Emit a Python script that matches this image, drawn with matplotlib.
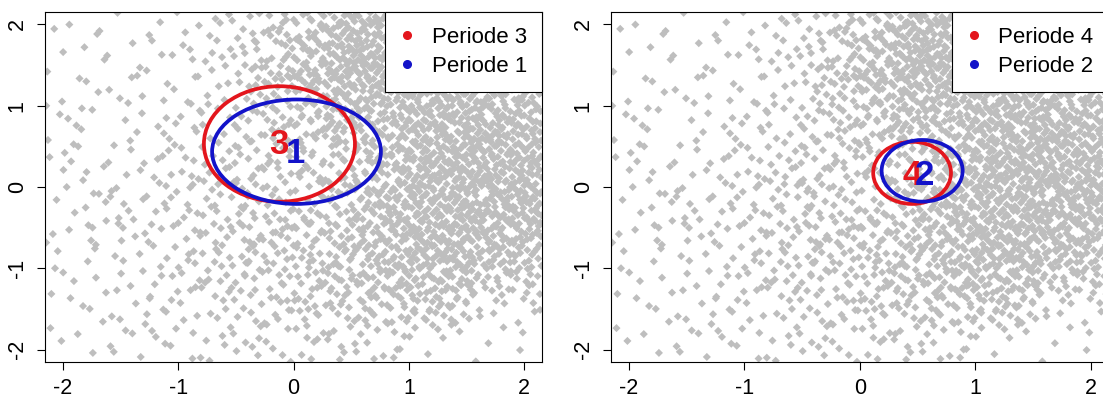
import numpy as np
import matplotlib
matplotlib.use('Agg')
import matplotlib.pyplot as plt
from matplotlib.patches import Ellipse
from matplotlib.lines import Line2D

plt.rcParams['font.family'] = ['Liberation Sans', 'DejaVu Sans']

# ---------------- data ----------------
tick_values = [-2, -1, 0, 1, 2]
tick_labels = ['-2', '-1', '0', '1', '2']
axis_lim = 2.155

# background cloud: number of points per cell of a 9x9 grid
# rows from top (y=2.15) to bottom (y=-2.15), columns from left to right
cloud_counts = [
    [5, 5, 6, 14, 32, 66, 60, 50, 38],
    [4, 5, 8, 17, 48, 84, 82, 68, 50],
    [6, 7, 10, 18, 32, 56, 62, 75, 56],
    [7, 8, 12, 20, 25, 30, 60, 78, 72],
    [7, 10, 14, 24, 25, 32, 65, 82, 76],
    [7, 11, 17, 24, 28, 37, 65, 82, 68],
    [6, 9, 16, 23, 28, 40, 64, 68, 45],
    [6, 7, 13, 16, 20, 30, 44, 26, 9],
    [3, 6, 8, 12, 10, 13, 9, 3, 2],
]

left_periods = ['Periode 3', 'Periode 1']
left_center_x = [-0.122, 0.026]
left_center_y = [0.529, 0.434]
left_half_w = [0.655, 0.732]
left_half_h = [0.710, 0.642]
left_labels = ['3', '1']
left_label_x = [-0.129, 0.015]
left_label_y = [0.52, 0.41]

right_periods = ['Periode 4', 'Periode 2']
right_center_x = [0.453, 0.540]
right_center_y = [0.174, 0.199]
right_half_w = [0.337, 0.351]
right_half_h = [0.382, 0.379]
right_labels = ['4', '2']
right_label_x = [0.450, 0.561]
right_label_y = [0.14, 0.14]

period_colors = ['#e3161d', '#1313c9']
cloud_color = '#bebebe'


# ---------------- build cloud positions from the density grid ----------------
def radical_inverse(n, base):
    n = np.asarray(n, dtype=np.int64).copy()
    res = np.zeros(n.shape)
    f = 1.0 / base
    while np.any(n > 0):
        res += f * (n % base)
        n //= base
        f /= base
    return res


counts = np.array(cloud_counts, dtype=float)[::-1]  # bottom -> top
nrow, ncol = counts.shape
edges = np.linspace(-axis_lim, axis_lim, ncol + 1)
cell = edges[1] - edges[0]
dens = counts / (cell * cell)
centers = (edges[:-1] + edges[1:]) / 2


def density_at(x, y):
    fx = np.clip((x - centers[0]) / cell, 0, ncol - 1)
    fy = np.clip((y - centers[0]) / cell, 0, nrow - 1)
    i0 = np.minimum(np.floor(fx).astype(int), ncol - 2)
    j0 = np.minimum(np.floor(fy).astype(int), nrow - 2)
    tx = fx - i0
    ty = fy - j0
    d00 = dens[j0, i0]
    d01 = dens[j0, i0 + 1]
    d10 = dens[j0 + 1, i0]
    d11 = dens[j0 + 1, i0 + 1]
    return (d00 * (1 - tx) * (1 - ty) + d01 * tx * (1 - ty)
            + d10 * (1 - tx) * ty + d11 * tx * ty)


dmax = dens.max()
span = 2 * axis_lim
n_cand = int(dmax * span * span)
idx = np.arange(1, n_cand + 1)
cx = -axis_lim + span * radical_inverse(idx, 2)
cy = -axis_lim + span * radical_inverse(idx, 3)
cu = radical_inverse(idx, 5)
keep = cu < density_at(cx, cy) / dmax
cloud_x = cx[keep]
cloud_y = cy[keep]

# ---------------- figure ----------------
W, H = 1103, 399
fig = plt.figure(figsize=(W / 100, H / 100), dpi=100)

ax_h = 350.6 / H
ax_b = (H - 362.3) / H
axL = fig.add_axes([45 / W, ax_b, 497 / W, ax_h])
axR = fig.add_axes([611 / W, ax_b, 497.6 / W, ax_h])

panels = [
    (axL, left_periods, left_center_x, left_center_y, left_half_w, left_half_h,
     left_labels, left_label_x, left_label_y),
    (axR, right_periods, right_center_x, right_center_y, right_half_w, right_half_h,
     right_labels, right_label_x, right_label_y),
]

for (ax, periods, ex, ey, hw, hh, labs, lx, ly) in panels:
    ax.scatter(cloud_x, cloud_y, s=17, marker='D', color=cloud_color,
               edgecolors='none', zorder=1)
    for k in range(2):
        ax.add_patch(Ellipse((ex[k], ey[k]), 2 * hw[k], 2 * hh[k], fill=False,
                             edgecolor=period_colors[k], lw=2.7, zorder=3))
    for k in range(2):
        ax.text(lx[k], ly[k], labs[k], color=period_colors[k], fontsize=25,
                fontweight='bold', ha='center', va='center', zorder=4)
    ax.set_xlim(-axis_lim, axis_lim)
    ax.set_ylim(-axis_lim, axis_lim)
    ax.set_xticks(tick_values)
    ax.set_xticklabels(tick_labels)
    ax.set_yticks(tick_values)
    ax.set_yticklabels(tick_labels, rotation=90, va='center')
    ax.tick_params(direction='out', length=6, width=0.8, labelsize=15.5,
                   colors='black')
    ax.tick_params(axis='x', pad=5.5)
    ax.tick_params(axis='y', pad=6.5)
    for sp in ax.spines.values():
        sp.set_linewidth(0.8)
        sp.set_color('black')
    handles = [Line2D([], [], marker='o', ls='', color=period_colors[k], ms=5.5)
               for k in range(2)]
    leg = ax.legend(handles, periods, loc='upper right', borderaxespad=0,
                    fancybox=False, edgecolor='black', framealpha=1,
                    fontsize=16, handlelength=0.6, handletextpad=0.8,
                    labelspacing=0.36, borderpad=0.68)
    leg.get_frame().set_linewidth(0.8)
    leg.set_zorder(10)

fig.savefig('out.png', dpi=100)
